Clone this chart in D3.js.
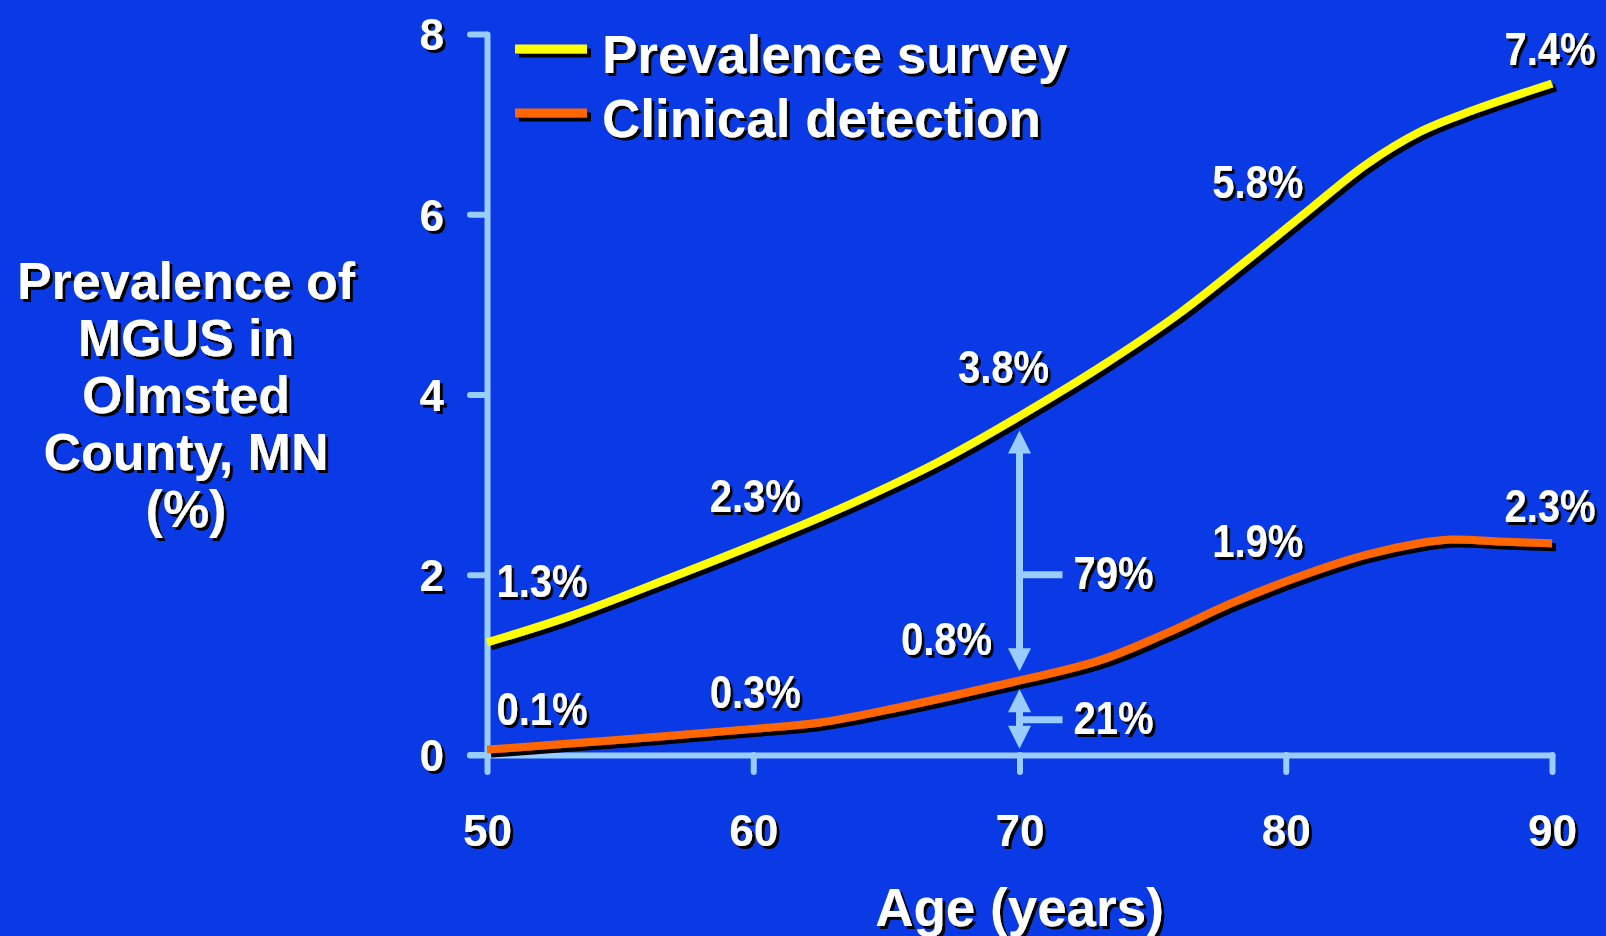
<!DOCTYPE html>
<html><head><meta charset="utf-8">
<script src="https://cdn.jsdelivr.net/npm/d3@7"></script>
<style>
html,body{margin:0;padding:0;background:#0a3ae6;overflow:hidden}
text{font-family:"Liberation Sans",Arial,Helvetica,sans-serif;font-weight:bold;fill:#ffffff}
</style></head>
<body><svg id="chart" width="1606" height="936"></svg>
<script>
// ---- data ----
const surveyAges   = [50, 53, 57, 60, 63, 67, 70, 73, 76, 79, 81, 83, 85, 87, 90];
const surveyValues = [1.25, 1.53, 1.98, 2.33, 2.7, 3.26, 3.76, 4.3, 4.9, 5.6, 6.08, 6.55, 6.91, 7.15, 7.45];
const clinicalAges   = [50, 55, 60, 62.5, 65.5, 69, 73, 75.5, 78, 80.5, 83, 85, 86.2, 88, 90];
const clinicalValues = [0.06, 0.17, 0.29, 0.36, 0.53, 0.76, 1.05, 1.35, 1.69, 1.98, 2.22, 2.35, 2.39, 2.37, 2.35];
const labelAges = [50, 60, 70, 80, 90];
const surveyLabelValues = [1.3, 2.3, 3.8, 5.8, 7.4];
const surveyLabels = ["1.3%", "2.3%", "3.8%", "5.8%", "7.4%"];
const clinicalLabelValues = [0.1, 0.3, 0.8, 1.9, 2.3];
const clinicalLabels = ["0.1%", "0.3%", "0.8%", "1.9%", "2.3%"];
const xTicks = [50, 60, 70, 80, 90];
const yTicks = [0, 2, 4, 6, 8];
const seriesNames = ["Prevalence survey", "Clinical detection"];
const gapAge = 70;
const gapLabels = ["79%", "21%"];
const gapFrom = [3.6, 0.73];
const gapTo = [0.93, 0.07];
const gapMid = [2.0, 0.39];
const yTitleLines = ["Prevalence of", "MGUS in", "Olmsted", "County, MN", "(%)"];
const xTitle = "Age (years)";

// ---- layout (not data) ----
const surveyOffsets = [[55,-41],[2,-36],[-16,-30],[-28,-34],[-2,-23]];
const clinicalOffsets = [[55,-21],[2,-20],[-73,-28],[-28,-27],[-2,-26]];
const colors = ["#ffff00", "#ff6600"];
const axisColor = "#99ccff";

const svg = d3.select("#chart");
svg.append("rect").attr("width",1606).attr("height",936).attr("fill","#0a3ae6");
const defs = svg.append("defs");
defs.append("filter").attr("id","ts").attr("x","-10%").attr("y","-10%").attr("width","130%").attr("height","140%")
  .append("feDropShadow").attr("dx",3).attr("dy",3).attr("stdDeviation",0).attr("flood-color","#000").attr("flood-opacity",1);
defs.append("filter").attr("id","ls").attr("filterUnits","userSpaceOnUse")
  .attr("x",0).attr("y",0).attr("width",1606).attr("height",936)
  .append("feDropShadow").attr("dx",4).attr("dy",4).attr("stdDeviation",0).attr("flood-color","#000").attr("flood-opacity",1);

const x = d3.scaleLinear().domain([50,90]).range([487,1552]);
const y = d3.scaleLinear().domain([0,8]).range([755,34]);

// axes
const gx = svg.append("g").attr("transform","translate(0,755)")
  .call(d3.axisBottom(x).tickValues(xTicks).tickSize(17).tickSizeOuter(0).tickFormat(d3.format("d")));
const gy = svg.append("g").attr("transform","translate(487,0)")
  .call(d3.axisLeft(y).tickValues(yTicks).tickSize(17).tickSizeOuter(0).tickFormat(d3.format("d")));
[gx, gy].forEach(g => {
  g.select(".domain").attr("stroke",axisColor).attr("stroke-width",6).attr("stroke-linecap","round");
  g.selectAll(".tick line").attr("stroke",axisColor).attr("stroke-width",6).attr("stroke-linecap","round");
  g.selectAll(".tick text").attr("fill","#fff").attr("font-size",44)
    .attr("font-family",'"Liberation Sans",Arial,sans-serif').attr("font-weight","bold")
    .attr("filter","url(#ts)");
});
gx.selectAll(".tick text").attr("y",91).attr("dy",0);
gy.selectAll(".tick text").attr("x",-43).attr("dy","0.36em");
gx.append("line").attr("x1",470).attr("x2",487).attr("y1",0).attr("y2",0)
  .attr("stroke",axisColor).attr("stroke-width",6).attr("stroke-linecap","round");

// lines
const line = d3.line().x(d=>x(d[0])).y(d=>y(d[1])).curve(d3.curveCatmullRom.alpha(0.5));
const series = [
  d3.zip(surveyAges, surveyValues),
  d3.zip(clinicalAges, clinicalValues)
];
series.forEach((s,i)=>{
  svg.append("path").datum(s).attr("d",line).attr("fill","none")
    .attr("stroke",colors[i]).attr("stroke-width",8).attr("filter","url(#ls)");
});

// gap arrows
const arrows = svg.append("g");
gapLabels.forEach((lab,i)=>{
  const ax = x(gapAge), y1 = y(gapFrom[i]), y2 = y(gapTo[i]), ym = y(gapMid[i]);
  const hl = 23, hw = 11.5;
  arrows.append("line").attr("x1",ax).attr("x2",ax).attr("y1",y1+hl-2).attr("y2",y2-hl+2)
    .attr("stroke",axisColor).attr("stroke-width",7);
  arrows.append("path").attr("d",`M${ax},${y1}L${ax-hw},${y1+hl}L${ax+hw},${y1+hl}Z`).attr("fill",axisColor);
  arrows.append("path").attr("d",`M${ax},${y2}L${ax-hw},${y2-hl}L${ax+hw},${y2-hl}Z`).attr("fill",axisColor);
  arrows.append("line").attr("x1",ax).attr("x2",ax+43).attr("y1",ym).attr("y2",ym)
    .attr("stroke",axisColor).attr("stroke-width",7);
  svg.append("text").attr("x",ax+54).attr("y",ym+14).attr("font-size",46)
    .attr("textLength",80).attr("lengthAdjust","spacingAndGlyphs")
    .attr("filter","url(#ts)").text(lab);
});

// data labels
function addLabels(vals, labs, offs){
  labs.forEach((t,i)=>{
    const cx = x(labelAges[i]) + offs[i][0], by = y(vals[i]) + offs[i][1];
    svg.append("text").attr("transform",`translate(${cx},${by}) scale(0.87,1)`)
      .attr("text-anchor","middle").attr("font-size",46).attr("filter","url(#ts)").text(t);
  });
}
addLabels(surveyLabelValues, surveyLabels, surveyOffsets);
addLabels(clinicalLabelValues, clinicalLabels, clinicalOffsets);

// legend
const legY = [49, 113];
seriesNames.forEach((n,i)=>{
  svg.append("line").attr("x1",515).attr("x2",587).attr("y1",legY[i]).attr("y2",legY[i])
    .attr("stroke",colors[i]).attr("stroke-width",9).attr("filter","url(#ls)");
  svg.append("text").attr("x",602).attr("y",legY[i]+24).attr("font-size",53)
    .attr("filter","url(#ts)").text(n);
});

// titles
svg.append("text").attr("x",x(70)).attr("y",926).attr("text-anchor","middle")
  .attr("font-size",53).attr("filter","url(#ts)").text(xTitle);
yTitleLines.forEach((t,i)=>{
  svg.append("text").attr("x",186).attr("y",299 + i*57).attr("text-anchor","middle")
    .attr("font-size",52).attr("filter","url(#ts)").text(t);
});
</script>
</body></html>
